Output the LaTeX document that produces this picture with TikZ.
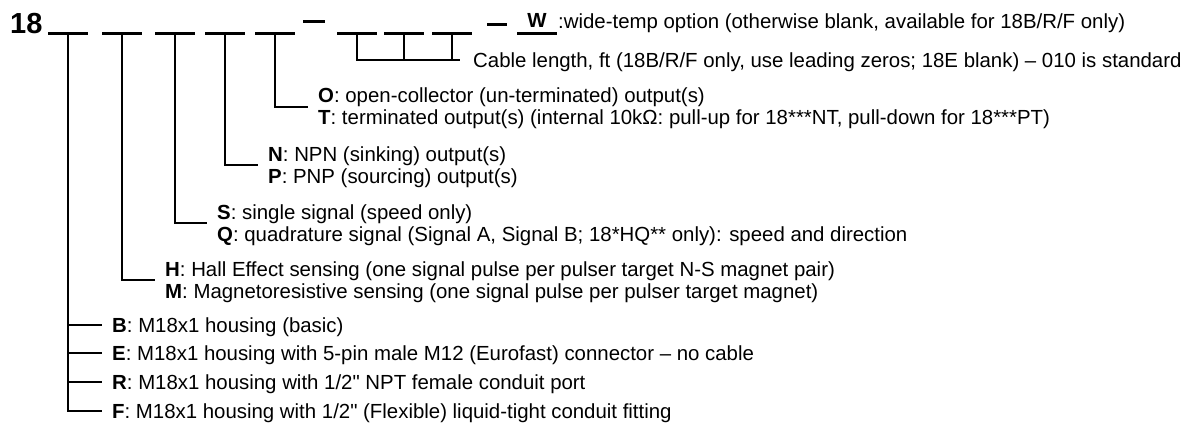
\documentclass[tikz,border=0pt]{standalone}
\usepackage{fontspec}
\setmainfont{Liberation Sans}
\newfontfamily\plainfont{Liberation Sans}
\usetikzlibrary{positioning, calc}
\newcommand{\opt}[1]{\textbf{#1}}
\newcommand{\inch}{{\plainfont"}}
\tikzset{every node/.style={font=\fontsize{20.4}{21.5}\selectfont, inner ysep=0pt}, every path/.style={line cap=butt, line join=miter}}
\tikzset{blank/.style={line width=3pt}, lead/.style={line width=1.3pt}, code/.style={anchor=west, inner xsep=10pt, align=left}, one/.style={code, text height=14.7pt, text depth=0pt}}

\begin{document}
\begin{tikzpicture}[x=1pt, y=-1pt]
    \useasboundingbox (0,0) rectangle (1196,426);
    % part number row
    \node [anchor=base west, inner sep=0pt, font=\bfseries\fontsize{29}{29}\selectfont] (pn) at (10,33) {18};
    \foreach \name/\x in {b1/68, b2/122, b3/175, b4/225, b5/275, b6/357, b7/404, b8/452, bw/537} {
        \coordinate (\name) at (\x,33);
        \draw [blank] ([xshift=-20pt]\name) -- ([xshift=20pt]\name);
    }
    \draw [blank] (303,21) -- (325,21);
    \draw [blank] (487,24) -- (507,24);
    \node [anchor=base, inner sep=0pt, font=\bfseries\fontsize{20.4}{20.4}\selectfont] (w) at (537,27) {W};
    \node [anchor=base west, inner sep=0pt] (wide) at (558,28) {:wide-temp option (otherwise blank, available for 18B/R/F only)};

    % option texts
    \node [one, inner xsep=13pt] (cable) at (460,60) {Cable length, ft (18B/R/F only, use leading zeros; 18E blank) -- 010 is standard};
    \node [code] (term) at (308,108) {\opt{O}: open-collector (un-terminated) output(s)\\
        \opt{T}: terminated output(s) (internal 10kΩ: pull-up for 18***NT, pull-down for 18***PT)};
    \node [code] (out) at (258,167) {\opt{N}: NPN (sinking) output(s)\\ \opt{P}: PNP (sourcing) output(s)};
    \node [code] (sig) at (207,225) {\opt{S}: single signal (speed only)\\
        \opt{Q}: quadrature signal (Signal A, Signal B; 18*HQ** only): speed and direction};
    \node [code] (sens) at (155,282) {\opt{H}: Hall Effect sensing (one signal pulse per pulser target N-S magnet pair)\\
        \opt{M}: Magnetoresistive sensing (one signal pulse per pulser target magnet)};
    \node [one] (hB) at (102,325) {\opt{B}: M18x1 housing (basic)};
    \node [one] (hE) at (102,353) {\opt{E}: M18x1 housing with 5-pin male M12 (Eurofast) connector -- no cable};
    \node [one] (hR) at (102,382) {\opt{R}: M18x1 housing with 1/2\inch{} NPT female conduit port};
    \node [one] (hF) at (102,411) {\opt{F}: M18x1 housing with 1/2\inch{} (Flexible) liquid-tight conduit fitting};

    % leaders
    \draw [lead] (b6) |- (cable.west);
    \draw [lead] (b7) -- (b7 |- cable.west);
    \draw [lead] (b8) -- (b8 |- cable.west);
    \draw [lead] (b5) |- ([yshift=1pt]term.west);
    \draw [lead] (b4) |- ([yshift=2pt]out.west);
    \draw [lead] (b3) |- ([yshift=2pt]sig.west);
    \draw [lead] (b2) |- ([yshift=2pt]sens.west);
    \foreach \h in {hB, hE, hR, hF} {
        \draw [lead] (b1) |- (\h.west);
    }
\end{tikzpicture}
\end{document}
